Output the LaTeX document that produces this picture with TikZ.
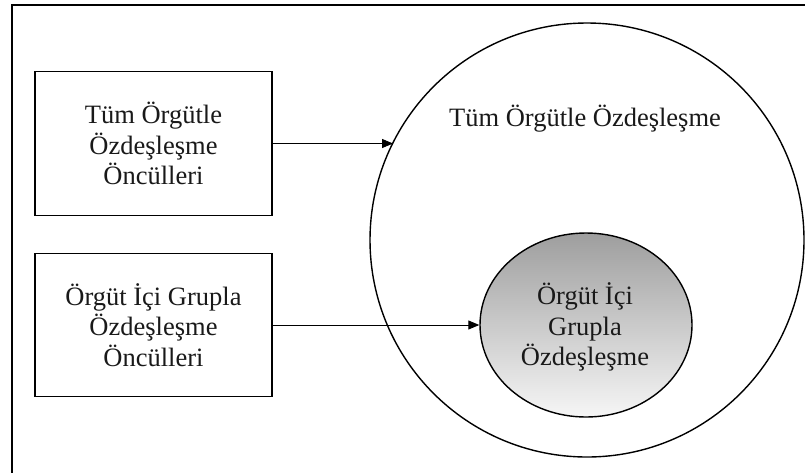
\documentclass[tikz,border=0pt]{standalone}
\usepackage{fontspec}
\setmainfont{Liberation Serif}
\usetikzlibrary{arrows.meta,shapes.geometric}
\definecolor{gtop}{RGB}{158,158,158}
\definecolor{gbot}{RGB}{246,246,246}
\begin{document}
\begin{tikzpicture}[x=1pt,y=-1pt,
  lbl/.style={font=\fontsize{26.5}{30.5}\selectfont, align=center, text=black!90},
  srcbox/.style={draw, line width=1.6pt, minimum width=237pt, minimum height=144pt, inner sep=0pt, lbl},
  conn/.style={line width=0.9pt, -{Triangle[length=11pt,width=9pt]}},
  frameline/.style={line width=2.4pt}
]
\useasboundingbox (0,0) rectangle (805,472);
\fill[white] (0,0) rectangle (805,472);
% frame (only top and left edges visible)
\coordinate (ftl) at (12,5);
\coordinate (ftr) at (810,5);
\coordinate (fbl) at (12,480);
\draw[frameline] (fbl) -- (ftl) -- (ftr);
% source boxes
\node[srcbox] (box1) at (153.5,143.5) {Tüm Örgütle\\Özdeşleşme\\Öncülleri};
\node[srcbox, minimum height=143pt] (box2) at (153.5,325) {Örgüt İçi Grupla\\Özdeşleşme\\Öncülleri};
% big circle
\node[draw, circle, line width=1.4pt, minimum size=434pt, inner sep=0pt] (big) at (587,240) {};
\node[lbl] (bigt) at (585,119) {Tüm Örgütle Özdeşleşme};
% inner ellipse
\node[draw, ellipse, line width=1.4pt, minimum width=212pt, minimum height=184pt, inner sep=0pt,
  top color=gtop, bottom color=gbot] (inner) at (586,325) {};
\node[lbl] (innert) at (585,327) {Örgüt İçi\\Grupla\\Özdeşleşme};
% connectors
\draw[conn] (box1.east) -- (box1.east -| big.153.7);
\draw[conn] (box2.east) -- (inner.west);
\end{tikzpicture}
\end{document}
